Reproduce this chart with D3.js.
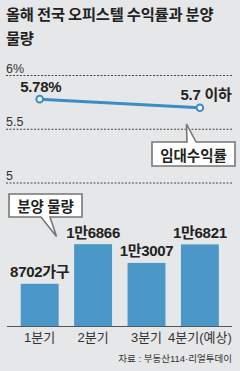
<!DOCTYPE html>
<html><head><meta charset="utf-8">
<script src="https://cdn.jsdelivr.net/npm/d3@7"></script>
<style>
html,body{margin:0;padding:0;background:#e6e7e8;}
svg{display:block;}
text{font-family:"Liberation Sans Narrow","Liberation Sans","Noto Sans CJK KR",sans-serif;}
.kr{font-family:"Noto Sans CJK KR",sans-serif;}
</style></head>
<body><svg id="c" width="240" height="371"></svg>
<script>
const titleLines = ["올해 전국 오피스텔 수익률과 분양", "물량"];
const quarters = ["1분기", "2분기", "3분기", "4분기(예상)"];
const supply = [8702, 16866, 13007, 16821];
const supplyLabels = ["8702가구", "1만6866", "1만3007", "1만6821"];
const yieldQuarters = ["1분기", "4분기(예상)"];
const yieldValues = [5.78, 5.7];
const yieldLabels = ["5.78%", "5.7 이하"];
const yieldTicks = [5, 5.5, 6];
const yieldTickLabels = ["5", "5.5", "6%"];
const source = "자료 : 부동산114·리얼투데이";

const svg = d3.select("#c");
svg.append("rect").attr("width",240).attr("height",371).attr("fill","#e6e7e8");

// title
svg.selectAll(".title").data(titleLines).join("text")
  .attr("class","kr").attr("x",6).attr("y",(d,i)=>20+i*24)
  .attr("font-size",15.3).attr("font-weight",700).attr("fill","#222")
  .attr("letter-spacing",-0.2).text(d=>d);

const x = d3.scaleBand().domain(quarters).range([13,226.6]).paddingInner(0.29).paddingOuter(0.145);
const yL = d3.scaleLinear().domain([5,6]).range([183,75.5]);
const yB = d3.scaleLinear().domain([0,20000]).range([326,229]);

// gridlines
const g = svg.append("g");
g.selectAll("line").data(yieldTicks).join("line")
  .attr("x1",6).attr("x2",232).attr("y1",d=>yL(d)).attr("y2",d=>yL(d))
  .attr("stroke","#444").attr("stroke-width",1).attr("stroke-dasharray","2,1.5");
g.selectAll("text").data(yieldTicks).join("text")
  .attr("x",6).attr("y",d=>yL(d)-3).attr("font-size",12.5).attr("fill","#333")
  .text((d,i)=>yieldTickLabels[i]);

// callout: 임대수익률
svg.append("path")
  .attr("d","M152,142 L187,142 L186.5,124 L196,142 L235,142 L235,166 L152,166 Z")
  .attr("fill","#fff").attr("stroke","#777").attr("stroke-width",1.6).attr("stroke-linejoin","miter");
svg.append("text").attr("class","kr").attr("x",193.5).attr("y",161).attr("text-anchor","middle")
  .attr("font-size",14.5).attr("font-weight",700).attr("fill","#222").text("임대수익률");

// bars
svg.selectAll(".bar").data(supply).join("rect").attr("class","bar")
  .attr("x",(d,i)=>x(quarters[i])).attr("width",x.bandwidth())
  .attr("y",d=>yB(d)).attr("height",d=>yB(0)-yB(d)).attr("fill","#4a97c8");
svg.selectAll(".blab").data(supply).join("text").attr("class","blab")
  .attr("x",(d,i)=>x(quarters[i])+x.bandwidth()/2).attr("y",d=>yB(d)-6.5)
  .attr("text-anchor","middle").attr("font-size",15).attr("font-weight",700)
  .attr("fill","#222").attr("letter-spacing",-0.3).text((d,i)=>supplyLabels[i]);

// baseline + category axis
svg.append("line").attr("x1",7).attr("x2",232).attr("y1",yB(0)+0.5).attr("y2",yB(0)+0.5)
  .attr("stroke","#555").attr("stroke-width",1.2);
const ax = svg.append("g").attr("transform",`translate(0,${yB(0)})`)
  .call(d3.axisBottom(x).tickSize(0).tickPadding(7));
ax.select(".domain").remove();
ax.selectAll("text").attr("font-size",13).attr("fill","#333")
  .attr("font-family","'Liberation Sans Narrow','Liberation Sans','Noto Sans CJK KR',sans-serif");

// callout: 분양 물량
svg.append("path")
  .attr("d","M9,194 L82,194 L82,217 L50,217 L56.5,236.5 L41,217 L9,217 Z")
  .attr("fill","#fff").attr("stroke","#777").attr("stroke-width",1.6);
svg.append("text").attr("class","kr").attr("x",45.5).attr("y",212).attr("text-anchor","middle")
  .attr("font-size",14.5).attr("font-weight",700).attr("fill","#222").text("분양 물량");

// yield line
const pts = yieldValues.map((v,i)=>[x(yieldQuarters[i])+x.bandwidth()/2, yL(v)]);
svg.append("path").datum(pts).attr("d",d3.line().curve(d3.curveMonotoneX))
  .attr("fill","none").attr("stroke","#3a8dc6").attr("stroke-width",3);
svg.selectAll(".pt").data(pts).join("circle").attr("class","pt")
  .attr("cx",d=>d[0]).attr("cy",d=>d[1]).attr("r",3.3)
  .attr("fill","#fff").attr("stroke","#3a8dc6").attr("stroke-width",2);
svg.selectAll(".ylab").data(pts).join("text").attr("class","ylab")
  .attr("x",(d,i)=>i===0?d[0]-19.5:d[0]+31.5).attr("y",d=>d[1]-7.5)
  .attr("text-anchor",(d,i)=>i===0?"start":"end")
  .attr("font-size",15).attr("font-weight",700).attr("fill","#222").attr("letter-spacing",-0.3)
  .text((d,i)=>yieldLabels[i]);

// source
svg.append("text").attr("x",232).attr("y",362).attr("text-anchor","end")
  .attr("font-size",9.5).attr("fill","#333").text(source);
</script></body></html>
